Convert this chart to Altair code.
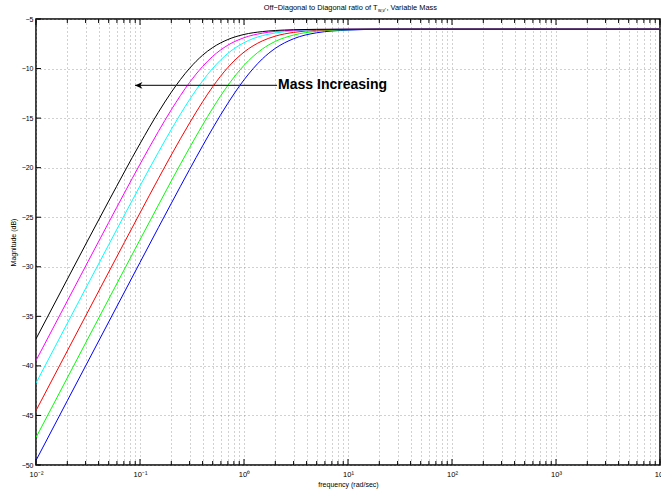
import altair as alt
import pandas as pd

# ---------------- data ----------------
freq = [0.01, 0.02, 0.05, 0.1, 0.15, 0.2, 0.3, 0.4, 0.5, 0.7, 1, 1.5, 2, 3, 5,
        10, 20, 50, 100, 1000, 10000]

blue = [-49.54, -43.52, -35.57, -29.56, -26.06, -23.60, -20.17, -17.80, -16.02,
        -13.50, -11.14, -9.03, -7.96, -6.99, -6.39, -6.12, -6.04, -6.02, -6.02,
        -6.02, -6.02]
green = [-47.23, -41.21, -33.26, -27.27, -23.79, -21.34, -17.98, -15.69, -14.01,
         -11.70, -9.68, -8.03, -7.26, -6.62, -6.24, -6.08, -6.03, -6.02, -6.02,
         -6.02, -6.02]
red = [-44.51, -38.49, -30.54, -24.57, -21.12, -18.72, -15.49, -13.35, -11.84,
       -9.89, -8.34, -7.21, -6.73, -6.35, -6.14, -6.05, -6.03, -6.02, -6.02,
       -6.02, -6.02]
cyan = [-41.73, -35.71, -27.78, -21.84, -18.46, -16.15, -13.13, -11.24, -9.98,
        -8.47, -7.39, -6.68, -6.41, -6.20, -6.08, -6.04, -6.02, -6.02, -6.02,
        -6.02, -6.02]
magenta = [-39.46, -33.45, -25.53, -19.65, -16.36, -14.16, -11.40, -9.79, -8.77,
           -7.64, -6.89, -6.43, -6.25, -6.13, -6.06, -6.03, -6.02, -6.02, -6.02,
           -6.02, -6.02]
black = [-37.27, -31.26, -23.37, -17.58, -14.42, -12.39, -9.97, -8.65, -7.88,
         -7.07, -6.56, -6.27, -6.16, -6.08, -6.04, -6.03, -6.02, -6.02, -6.02,
         -6.02, -6.02]

series_names = ["blue", "green", "red", "cyan", "magenta", "black"]
series_values = [blue, green, red, cyan, magenta, black]
series_colors = ["#0000ff", "#00ff00", "#ff0000", "#00ffff", "#ff00ff", "#000000"]

y_ticks = [-50, -45, -40, -35, -30, -25, -20, -15, -10, -5]
x_major = [0.01, 0.1, 1, 10, 100, 1000, 10000]
x_major_text = ["10\u207b\u00b2", "10\u207b\u00b9", "10\u2070", "10\u00b9",
                "10\u00b2", "10\u00b3", "10\u2074"]
x_minor = [0.02, 0.03, 0.04, 0.05, 0.06, 0.07, 0.08, 0.09,
           0.2, 0.3, 0.4, 0.5, 0.6, 0.7, 0.8, 0.9,
           2, 3, 4, 5, 6, 7, 8, 9,
           20, 30, 40, 50, 60, 70, 80, 90,
           200, 300, 400, 500, 600, 700, 800, 900,
           2000, 3000, 4000, 5000, 6000, 7000, 8000, 9000]

title_main = "Off\u2212Diagonal to Diagonal ratio of T"
title_sub = "w,v'"
title_end = ", Variable Mass"
x_title = "frequency (rad/sec)"
y_title = "Magnitude (dB)"

annot_text = "Mass Increasing"
arrow_tip = [0.0896]
arrow_tail = [2.08]
arrow_level = [-11.7]

# ---------------- chart ----------------
W, H = 624, 446
FONT = "Liberation Sans"

xs = alt.Scale(type="log", domain=[0.01, 10000], nice=False)
ys = alt.Scale(domain=[-50, -5], nice=False, zero=False)

label_expr = ("indexof({vals}, datum.value) >= 0 ? {txt}[indexof({vals}, datum.value)] : ''"
              .format(vals=str(x_major), txt=str(x_major_text).replace('"', "'")))

x_axis = alt.Axis(values=sorted(x_major + x_minor), labelExpr=label_expr,
                  labelOverlap=False, labelFlush=False, labelBound=False,
                  labelFontSize=7.5, labelColor="#000", labelPadding=5,
                  ticks=False, domain=False, grid=True, gridColor="#8a8a8a",
                  gridDash=[1, 3], gridWidth=0.8, gridOpacity=1,
                  title=x_title, titleFontSize=7, titleFontWeight="normal",
                  titleColor="#000", titleBaseline="middle", titleY=19)
y_axis = alt.Axis(values=y_ticks, labelFontSize=7, labelColor="#000",
                  labelPadding=3, ticks=False, domain=False, grid=True,
                  gridColor="#8a8a8a", gridDash=[1, 3], gridWidth=0.8,
                  gridOpacity=1, title=y_title, titleFontSize=7,
                  titleFontWeight="normal", titleColor="#000",
                  titleBaseline="middle", titleX=-23, titleY=H / 2)

layers = []
for name, vals, col in zip(series_names, series_values, series_colors):
    df = pd.DataFrame({"freq": freq, "mag": vals})
    layers.append(
        alt.Chart(df).mark_line(color=col, strokeWidth=1, interpolate="monotone",
                                clip=True)
        .encode(x=alt.X("freq:Q", scale=xs, axis=x_axis),
                y=alt.Y("mag:Q", scale=ys, axis=y_axis))
    )

# inward tick marks (bottom / top)
def xticks(vals, y0, y1):
    return alt.Chart(pd.DataFrame({"v": vals})).mark_rule(
        color="#000", strokeWidth=1).encode(
        x=alt.X("v:Q", scale=xs, axis=x_axis),
        y=alt.value(y0), y2=alt.value(y1))

layers += [xticks(x_major, H, H - 6), xticks(x_minor, H, H - 4),
           xticks(x_major, 0, 6), xticks(x_minor, 0, 4)]

ytick = alt.Chart(pd.DataFrame({"v": y_ticks})).mark_rule(
    color="#000", strokeWidth=1).encode(
    y=alt.Y("v:Q", scale=ys, axis=y_axis), x=alt.value(0), x2=alt.value(5))
layers.append(ytick)

# annotation arrow + text
arr_df = pd.DataFrame({"tip": arrow_tip, "tail": arrow_tail, "lvl": arrow_level,
                       "t": [annot_text]})
arrow_line = alt.Chart(arr_df).mark_rule(color="#333333", strokeWidth=1.3).encode(
    x=alt.X("tip:Q", scale=xs, axis=x_axis), x2="tail:Q",
    y=alt.Y("lvl:Q", scale=ys, axis=y_axis))
arrow_head = alt.Chart(arr_df).mark_point(
    shape="M0,0 L1,-0.45 L0.7,0 L1,0.45 Z", size=220, filled=True,
    color="#000", opacity=1).encode(
    x=alt.X("tip:Q", scale=xs, axis=x_axis),
    y=alt.Y("lvl:Q", scale=ys, axis=y_axis))
arrow_text = alt.Chart(arr_df).mark_text(
    align="left", baseline="middle", fontSize=14, fontWeight="bold",
    font=FONT, color="#000", dx=1).encode(
    x=alt.X("tail:Q", scale=xs, axis=x_axis),
    y=alt.Y("lvl:Q", scale=ys, axis=y_axis), text="t:N")
layers += [arrow_line, arrow_head, arrow_text]

# title with subscript
tdf = pd.DataFrame({"a": [title_main], "b": [title_sub], "c": [title_end]})
t1 = alt.Chart(tdf).mark_text(align="right", baseline="middle", fontSize=7.4,
                              font=FONT, color="#000").encode(
    x=alt.value(341.5), y=alt.value(-11), text="a:N")
t2 = alt.Chart(tdf).mark_text(align="left", baseline="middle", fontSize=4.8,
                              font=FONT, color="#000").encode(
    x=alt.value(342), y=alt.value(-8.5), text="b:N")
t3 = alt.Chart(tdf).mark_text(align="left", baseline="middle", fontSize=7.4,
                              font=FONT, color="#000").encode(
    x=alt.value(350.5), y=alt.value(-11), text="c:N")
layers += [t1, t2, t3]

chart = alt.layer(*layers).properties(
    width=W, height=H,
    autosize=alt.AutoSizeParams(type="none"),
    padding={"left": 36, "top": 19, "right": 1, "bottom": 28},
).configure(font=FONT).configure_view(stroke="#000", strokeWidth=1.5)

chart.save("out.html", embed_options={"renderer": "svg", "actions": False})
